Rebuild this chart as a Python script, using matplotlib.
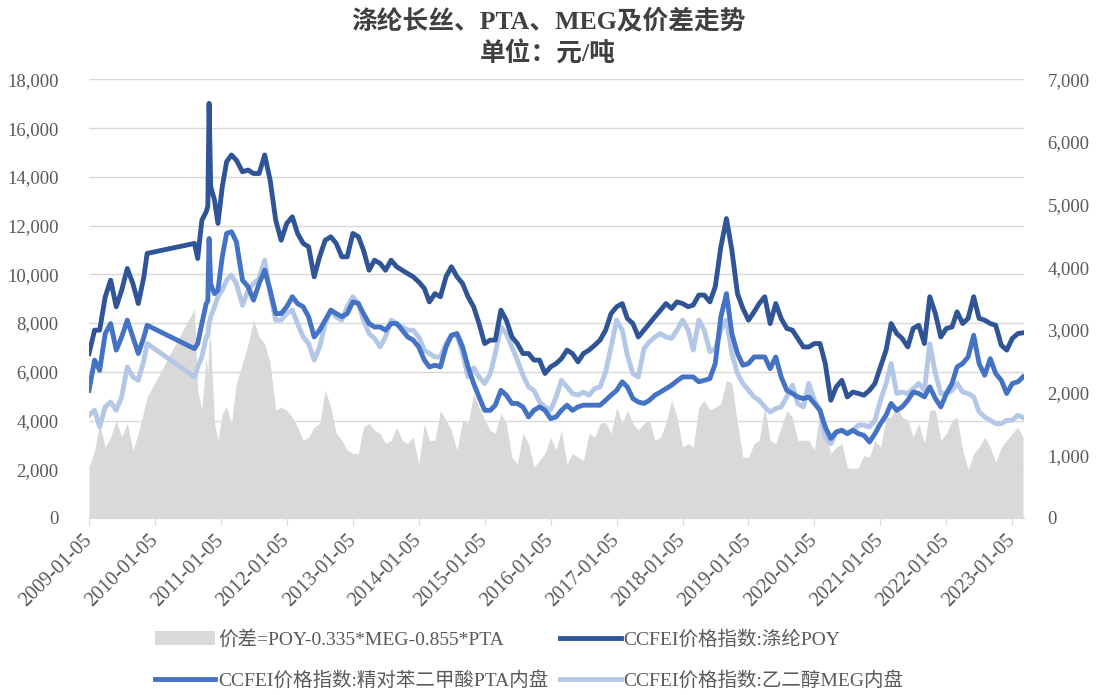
import matplotlib
matplotlib.use('Agg')
import matplotlib.pyplot as plt
from matplotlib.ticker import FuncFormatter, MultipleLocator
from matplotlib.patches import Patch
from matplotlib.transforms import ScaledTranslation
import pandas as pd

plt.rcParams['font.family'] = ['Liberation Serif', 'Noto Sans CJK SC']

# data (yuan / ton)
# irregular early part (data gap between 2009-11 and 2010-08)
early_dates = ['2009-01-05', '2009-02-05', '2009-03-05', '2009-04-05', '2009-05-05',
               '2009-06-05', '2009-07-05', '2009-08-05', '2009-09-05', '2009-10-05',
               '2009-11-05', '2009-11-23',
               '2010-08-12', '2010-08-30', '2010-09-22', '2010-10-16', '2010-10-25',
               '2010-11-01', '2010-11-10', '2010-12-01', '2010-12-20', '2011-01-13',
               '2011-02-06', '2011-03-05', '2011-04-01']
# then one point per month, 2011-05 .. 2023-03 (5th of each month)
monthly_first = '2011-05-01'
monthly_last = '2023-03-01'

poy = [6750, 7710, 7710, 9080, 9760, 8670, 9350, 10240, 9620, 8800, 9900, 10860,
       11270, 10650, 12220, 12570, 12800, 17020, 13600, 13050, 12090, 13590, 14620, 14900, 14690,
       # 2011-05 ..
       14210, 14280, 14140, 14140, 14900, 13870, 12220, 11400,
       12090, 12360, 11680, 11270, 11130, 9900, 10720, 11400, 11540, 11270, 10720, 10720,
       11680, 11540, 10990, 10170, 10580, 10450, 10170, 10580, 10310, 10170, 10030, 9900,
       9690, 9420, 8870, 9210, 9080, 9900, 10310, 9900, 9620, 9080, 8670, 7980,
       7160, 7300, 7300, 8530, 8120, 7430, 7160, 6750, 6750, 6480, 6480, 5930,
       6200, 6340, 6540, 6890, 6750, 6410, 6750, 6890, 7090, 7300, 7710, 8390,
       8670, 8800, 8190, 7980, 7430, 7710, 7980, 8260, 8530, 8800, 8600, 8870,
       8800, 8670, 8740, 9150, 9150, 8870, 9490, 11130, 12290, 10990, 9210, 8600,
       8120, 8460, 8800, 9080, 7980, 8800, 8190, 7780, 7710, 7370, 7020, 7020,
       7160, 7160, 6340, 4830, 5380, 5650, 4970, 5170, 5110, 5040, 5240, 5520,
       6200, 6890, 7980, 7570, 7370, 7020, 7780, 7910, 7160, 9080, 8390, 7430,
       7780, 7840, 8460, 7980, 8190, 9080, 8190, 8120, 7980, 7910, 7090, 6890,
       7370, 7570, 7600]

pta = [5240, 6480, 6060, 7570, 7980, 6890, 7430, 8120, 7430, 6750, 7430, 7910,
       6950, 7160, 7980, 8800, 8900, 11470, 9600, 9210, 9350, 10720, 11680, 11750, 11340,
       9760, 9490, 8940, 9620, 10170, 9350, 8390, 8390,
       8670, 9080, 8800, 8670, 8260, 7430, 7710, 8120, 8530, 8390, 8260, 8390,
       8870, 8800, 8390, 7980, 7840, 7840, 7710, 7980, 7980, 7710, 7430, 7300,
       7020, 6480, 6200, 6270, 6200, 7020, 7500, 7570, 7020, 6200, 5520, 4970,
       4420, 4420, 4630, 5240, 5040, 4700, 4700, 4560, 4150, 4420, 4560, 4420,
       4080, 4150, 4420, 4630, 4420, 4560, 4630, 4630, 4630, 4630, 4830, 5040,
       5240, 5590, 5380, 4900, 4760, 4700, 4830, 5040, 5170, 5310, 5450, 5630,
       5790, 5790, 5790, 5590, 5650, 5720, 6340, 8260, 9210, 7570, 6750, 6270,
       6340, 6610, 6610, 6610, 6130, 6610, 5790, 5240, 5110, 4970, 4900, 4970,
       4700, 4420, 3740, 3260, 3530, 3600, 3460, 3600, 3460, 3390, 3120, 3460,
       3870, 4220, 4700, 4420, 4560, 4830, 5170, 5110, 4970, 5380, 4900, 4560,
       5110, 5520, 6200, 6340, 6610, 7500, 6340, 5860, 6540, 5930, 5650, 5110,
       5520, 5590, 5790]

meg = [4220, 4420, 3740, 4560, 4760, 4420, 4970, 6200, 5790, 5650, 6480, 7160,
       5790, 6200, 6610, 7430, 7500, 7980, 8250, 8670, 9080, 9350, 9760, 9970, 9620,
       8730, 9350, 9620, 9830, 10580, 9210, 8120, 8120,
       8390, 8530, 7980, 7430, 7160, 6480, 7020, 7980, 8530, 8250, 8120, 8670,
       9080, 8800, 8120, 7570, 7370, 7020, 7430, 8120, 7980, 7840, 7710, 7710,
       7430, 6890, 6750, 6610, 6610, 7160, 7500, 7500, 6750, 5790, 6160, 5790,
       5520, 5930, 6750, 7840, 7570, 7020, 6480, 5860, 5380, 5240, 4760, 4560,
       4420, 4970, 5650, 5380, 5110, 5040, 5170, 5040, 5310, 5380, 6000, 7020,
       8120, 7710, 6680, 5930, 5790, 6950, 7230, 7430, 7570, 7430, 7370, 7710,
       8120, 7710, 6890, 8120, 7710, 6820, 6950, 7710, 8120, 6750, 5930, 5520,
       5240, 4970, 4830, 4560, 4350, 4490, 4560, 4970, 5450, 4700, 4560, 5520,
       4830, 4420, 3330, 3050, 3530, 3600, 3460, 3600, 3810, 3810, 3740, 4010,
       4830, 5520, 6340, 5110, 5170, 5110, 5310, 5520, 5240, 7150, 5930, 5110,
       5110, 5240, 5520, 5170, 5110, 4970, 4350, 4150, 4010, 3870, 3870, 4010,
       4010, 4220, 4120]

spread = [815, 1080, 1510, 1130, 1290, 1560, 1290, 1510, 1080, 1350, 1720, 1930,
          3340, 2040, 1720, 2570, 2300, 2990, 2780, 1510, 1240, 1670, 1770, 1510, 2150,
          2470, 2780, 3160, 2890, 2780, 2470, 1720, 1770,
          1720, 1610, 1450, 1240, 1290, 1450, 1510, 2040, 1770, 1350, 1240, 1080,
          1030, 1030, 1450, 1510, 1400, 1350, 1190, 1240, 1450, 1240, 1190, 1290,
          860, 1510, 1240, 1240, 1720, 1560, 1400, 1080, 1560, 1510, 1980, 1770,
          1560, 1400, 1350, 1670, 1510, 970, 860, 1350, 1190, 810, 920, 1030,
          1290, 1080, 1400, 860, 1030, 970, 920, 1350, 1290, 1510, 1530, 1350,
          1770, 1510, 1720, 1510, 1400, 1510, 1560, 1240, 1290, 1510, 1880, 1610,
          1130, 1190, 1130, 1770, 1880, 1720, 1770, 1830, 2200, 2150, 1510, 970,
          970, 1190, 1240, 1770, 1240, 1190, 1450, 1720, 1610, 1240, 1240, 1240,
          1080, 1720, 1400, 1030, 1130, 1190, 810, 760, 810, 1000, 970, 1240,
          1130, 1610, 1610, 1800, 1610, 1560, 1290, 1510, 1190, 1720, 1720, 1240,
          1350, 1560, 1610, 1080, 760, 1030, 1130, 1290, 1130, 890, 1130, 1240,
          1350, 1450, 1290]

tick_labels = ['2009-01-05', '2010-01-05', '2011-01-05', '2012-01-05', '2013-01-05',
               '2014-01-05', '2015-01-05', '2016-01-05', '2017-01-05', '2018-01-05',
               '2019-01-05', '2020-01-05', '2021-01-05', '2022-01-05', '2023-01-05']

monthly_dates = pd.date_range(monthly_first, monthly_last, freq='MS') + pd.Timedelta(days=4)
dates = pd.to_datetime(early_dates).append(monthly_dates)

label_spread = '价差=POY-0.335*MEG-0.855*PTA'
label_poy = 'CCFEI价格指数:涤纶POY'
label_pta = 'CCFEI价格指数:精对苯二甲酸PTA内盘'
label_meg = 'CCFEI价格指数:乙二醇MEG内盘'

grey = '#595959'

fig = plt.figure(figsize=(10.96, 6.95), dpi=100)
ax = fig.add_axes([0.0812, 0.2547, 0.853, 0.631])
ax2 = ax.twinx()
ax.set_zorder(ax2.get_zorder() + 1)
ax.patch.set_visible(False)

# spread on the right axis, behind the price lines
ax2.fill_between(dates, spread, 0, color='#D9D9D9', lw=0)
ax2.set_ylim(0, 7000)
ax2.yaxis.set_major_locator(MultipleLocator(1000))

l_meg, = ax.plot(dates, meg, color='#B4C7E7', lw=3.5, solid_joinstyle='round')
l_pta, = ax.plot(dates, pta, color='#4472C4', lw=3.5, solid_joinstyle='round')
l_poy, = ax.plot(dates, poy, color='#2F5597', lw=3.5, solid_joinstyle='round')

ax.set_ylim(0, 18000)
ax.yaxis.set_major_locator(MultipleLocator(2000))
ax.grid(axis='y', color='#D9D9D9', lw=1)
ax.set_axisbelow(True)

fmt = FuncFormatter(lambda v, p: f'{v:,.0f}')
ax.yaxis.set_major_formatter(fmt)
ax2.yaxis.set_major_formatter(fmt)

ax.set_xlim(pd.Timestamp('2009-01-05'), pd.Timestamp('2023-03-10'))
ax.set_xticks(pd.to_datetime(tick_labels))
ax.set_xticklabels(tick_labels, rotation=45, ha='right', va='center', rotation_mode='anchor')
shift = ScaledTranslation(0.08, 0, fig.dpi_scale_trans)
for lab in ax.get_xticklabels():
    lab.set_transform(lab.get_transform() + shift)

for a in (ax, ax2):
    for s in a.spines.values():
        s.set_visible(False)
ax.spines['bottom'].set_visible(True)
ax.spines['bottom'].set_color('#D9D9D9')

ax.tick_params(axis='y', length=0, pad=22, labelsize=13.5, labelcolor=grey)
ax2.tick_params(axis='y', length=0, pad=17, labelsize=13.5, labelcolor=grey)
ax.tick_params(axis='x', length=5, color='#D9D9D9', pad=9, labelsize=14.5, labelcolor=grey)

fig.text(0.5, 0.970, '涤纶长丝、PTA、MEG及价差走势', ha='center', va='center',
         fontsize=18.5, fontweight='bold', color='#404040')
fig.text(0.5, 0.922, '单位：元/吨', ha='center', va='center',
         fontsize=18.5, fontweight='bold', color='#404040')

handles = [Patch(facecolor='#D9D9D9', edgecolor='none'), l_pta, l_poy, l_meg]
labels = [label_spread, label_pta, label_poy, label_meg]
fig.legend(handles, labels, ncol=2, loc='center', bbox_to_anchor=(0.483, 0.05),
           frameon=False, fontsize=14, handlelength=3.1, handletextpad=0.15,
           columnspacing=0.6, labelspacing=1.15, labelcolor=grey)

fig.savefig('out.png', dpi=100)
